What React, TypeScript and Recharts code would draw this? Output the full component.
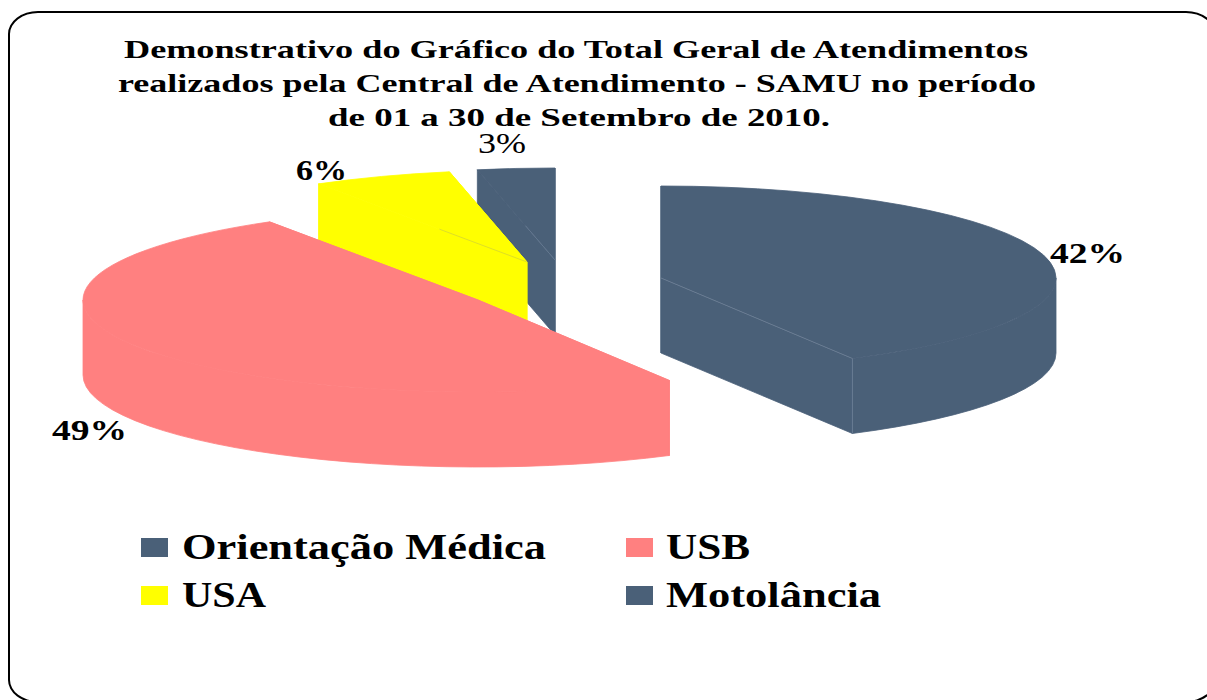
import { Pie, PieChart } from "recharts";

// drawn back to front, the pie runs counter-clockwise from 12 o'clock
const categories = ["Motolância", "USA", "USB", "Orientação Médica"];
const shares = [3.15, 5.7, 49.2, 41.95];
const colors = ["#4a6078", "#ffff00", "#ff8080", "#4a6078"];

const titleLines = [
  "Demonstrativo do Gráfico do Total Geral de Atendimentos",
  "realizados pela Central de Atendimento - SAMU no período",
  "de 01 a 30 de Setembro de 2010.",
];

const data = categories.map((name, i) => ({ name, value: shares[i], fill: colors[i] }));

const RX = 395;
const RY = 92;
const DEPTH = 75;
const CX = 550;
const CY = 280;

// exploded slice centres
const centers: Record<string, [number, number]> = {
  "Motolância": [555, 260],
  USA: [527, 262],
  USB: [478, 300],
  "Orientação Médica": [661, 278],
};

const labelPos: Record<string, { x: number; y: number; w: number; bold: boolean }> = {
  "Motolância": { x: 478, y: 153, w: 48, bold: false },
  USA: { x: 296, y: 180, w: 51, bold: true },
  USB: { x: 52, y: 440, w: 75, bold: true },
  "Orientação Médica": { x: 1050, y: 263, w: 75, bold: true },
};

const titlePos = [
  { x: 124, y: 58, w: 904 },
  { x: 118, y: 92, w: 918 },
  { x: 328, y: 126, w: 502 },
];

const legendOrder = ["Orientação Médica", "USB", "USA", "Motolância"];
const legendPos = [
  { x: 141, y: 538, tx: 182, ty: 559, w: 364 },
  { x: 626, y: 538, tx: 666, ty: 559, w: 84 },
  { x: 141, y: 586, tx: 182, ty: 607, w: 84 },
  { x: 626, y: 586, tx: 666, ty: 607, w: 215 },
];

const FONT = "'Liberation Serif', serif";

function pt(cx: number, cy: number, deg: number): [number, number] {
  const a = (deg * Math.PI) / 180;
  return [cx + RX * Math.cos(a), cy - RY * Math.sin(a)];
}

function Slice3D(props: any) {
  const { startAngle, endAngle, fill, name } = props;
  const [cx, cy] = centers[name ?? props.payload?.name];
  const a = Math.min(startAngle, endAngle);
  const b = Math.max(startAngle, endAngle);
  const [x1, y1] = pt(cx, cy, a);
  const [x2, y2] = pt(cx, cy, b);
  const large = b - a > 180 ? 1 : 0;
  const top = `M${cx},${cy} L${x1},${y1} A${RX},${RY} 0 ${large} 0 ${x2},${y2} Z`;
  const wall = (x: number, y: number) =>
    `M${cx},${cy} L${x},${y} L${x},${y + DEPTH} L${cx},${cy + DEPTH} Z`;

  // outer rim, only the part facing the viewer
  const ra = Math.max(a, 180);
  const rb = Math.min(b, 360);
  let rim = null;
  if (rb > ra) {
    const [rx1, ry1] = pt(cx, cy, ra);
    const [rx2, ry2] = pt(cx, cy, rb);
    rim = `M${rx1},${ry1} A${RX},${RY} 0 0 0 ${rx2},${ry2} L${rx2},${ry2 + DEPTH} A${RX},${RY} 0 0 1 ${rx1},${ry1 + DEPTH} Z`;
  }
  const solid = { fill, stroke: fill, strokeWidth: 0.8 };
  return (
    <g>
      <path d={wall(x1, y1)} {...solid} />
      <path d={wall(x2, y2)} {...solid} />
      {rim && <path d={rim} {...solid} />}
      <path d={top} {...solid} />
      {name === "Orientação Médica" && (
        <path d={`M${cx},${cy} L${x1},${y1} L${x1},${y1 + DEPTH}`} fill="none" stroke="#8090a4" strokeWidth={0.6} />
      )}
      {name === "USA" && (
        <path d={`M${x2 + (cx - x2) * 0.58},${y2 + (cy - y2) * 0.58} L${cx},${cy}`} fill="none" stroke="#c8c840" strokeWidth={0.6} />
      )}
      {name === "Motolância" && (
        <path d={`M${x2 + (cx - x2) * 0.62},${y2 + (cy - y2) * 0.62} L${cx},${cy}`} fill="none" stroke="#7688a0" strokeWidth={0.6} />
      )}
    </g>
  );
}

function renderLabel(props: any) {
  const p = labelPos[props.name ?? props.payload?.name];
  return (
    <text
      x={p.x}
      y={p.y}
      textLength={p.w}
      lengthAdjust="spacingAndGlyphs"
      fontFamily={FONT}
      fontSize={29}
      fontWeight={p.bold ? 700 : 400}
      fill="#000"
    >
      {Math.round(props.value)}%
    </text>
  );
}

export default function App() {
  return (
    <div style={{ position: "absolute", left: 0, top: 0, width: 1207, height: 700, overflow: "hidden", background: "#fff" }}>
      <div
        style={{
          position: "absolute",
          left: 8,
          top: 11,
          width: 1208,
          height: 692,
          border: "2px solid #000",
          borderRadius: "30px / 23px",
          boxSizing: "border-box",
        }}
      />
      <div style={{ position: "absolute", left: 0, top: 0 }}>
        <PieChart width={1207} height={700} margin={{ top: 0, right: 0, bottom: 0, left: 0 }}>
          <Pie
            data={data}
            dataKey="value"
            nameKey="name"
            cx={CX}
            cy={CY}
            outerRadius={RX}
            startAngle={90}
            endAngle={450}
            stroke="none"
            shape={Slice3D}
            label={renderLabel}
            labelLine={false}
            isAnimationActive={false}
          />
          {titleLines.map((line, i) => (
            <text
              key={line}
              x={titlePos[i].x}
              y={titlePos[i].y}
              textLength={titlePos[i].w}
              lengthAdjust="spacingAndGlyphs"
              fontFamily={FONT}
              fontSize={26}
              fontWeight={700}
              fill="#000"
            >
              {line}
            </text>
          ))}
          {legendOrder.map((name, i) => (
            <g key={name}>
              <rect x={legendPos[i].x} y={legendPos[i].y} width={27} height={19} fill={colors[categories.indexOf(name)]} />
              <text
                x={legendPos[i].tx}
                y={legendPos[i].ty}
                textLength={legendPos[i].w}
                lengthAdjust="spacingAndGlyphs"
                fontFamily={FONT}
                fontSize={35}
                fontWeight={700}
                fill="#000"
              >
                {name}
              </text>
            </g>
          ))}
        </PieChart>
      </div>
    </div>
  );
}
